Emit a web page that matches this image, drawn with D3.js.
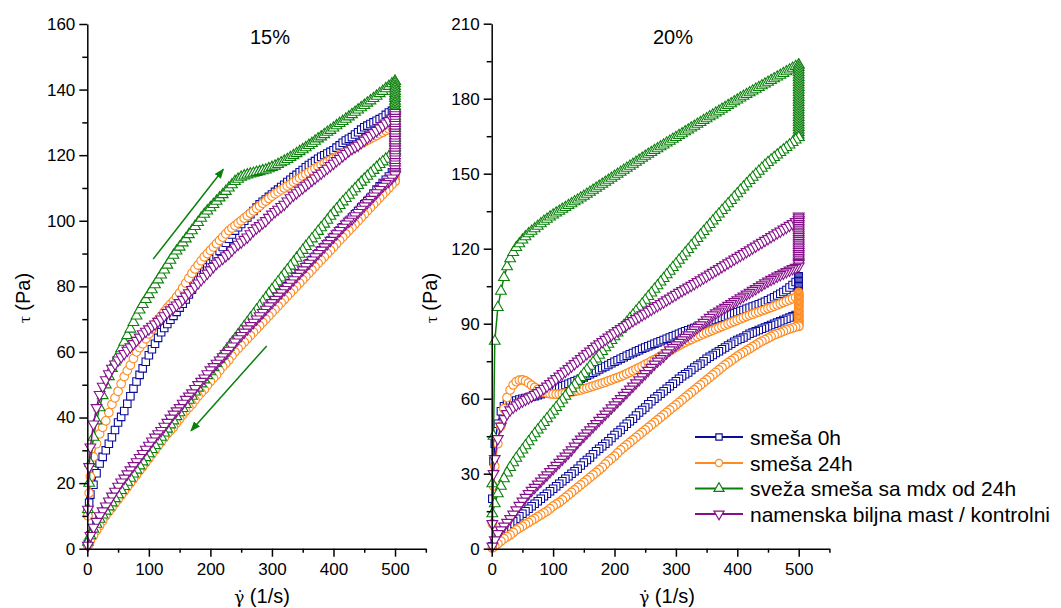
<!DOCTYPE html>
<html><head><meta charset="utf-8">
<script src="https://cdn.jsdelivr.net/npm/d3@7"></script>
<style>
body{margin:0;background:#fff;}
svg{display:block;font-family:"Liberation Sans",Arial,sans-serif;}
</style>
</head><body>
<svg id="chart" width="1061" height="608"></svg>
<script>
// ---------- data ----------
const rateUp = [1,3,5,10,15,20,25,30,35,40,45,50,55,60,65,70,75,80,85,90,95,100,105,110,115,120,125,130,135,140,145,150,155,160,165,170,175,180,185,190,195,200,205,210,215,220,225,230,235,240,245,250,255,260,265,270,275,280,285,290,295,300,305,310,315,320,325,330,335,340,345,350,355,360,365,370,375,380,385,390,395,400,405,410,415,420,425,430,435,440,445,450,455,460,465,470,475,480,485,490,495,500];
const rateDown = [500,495,490,485,480,475,470,465,460,455,450,445,440,435,430,425,420,415,410,405,400,395,390,385,380,375,370,365,360,355,350,345,340,335,330,325,320,315,310,305,300,295,290,285,280,275,270,265,260,255,250,245,240,235,230,225,220,215,210,205,200,195,190,185,180,175,170,165,160,155,150,145,140,135,130,125,120,115,110,105,100,95,90,85,80,75,70,65,60,55,50,45,40,35,30,25,20,15,10,5,1];
const holdRate = 500;

const seriesNames = ["smeša 0h","smeša 24h","sveža smeša sa mdx od 24h","namenska biljna mast / kontrolni"];
const panelTitles = ["15%","20%"];
const xTicks = [0,100,200,300,400,500];
const xMinor = [50,150,250,350,450,550];
const yTicks15 = [0,20,40,60,80,100,120,140,160];
const yMinor15 = [10,30,50,70,90,110,130,150];
const yTicks20 = [0,30,60,90,120,150,180,210];
const yMinor20 = [15,45,75,105,135,165,195];

// ===== 15 % =====
const blueUp15 = [11,14,
16.5,19.5,23,26,28,30,32,34,36.2,38.5,
40.2,42,44.2,46.5,48.8,51,53,55,57,59,
60.8,62.5,64.3,66,67.3,68.5,69.8,71,72.2,73.5,
74.7,76,77.5,79,80.5,82,83.3,84.5,85.8,87,
88.3,89.5,90.8,92,93.3,94.5,95.8,97,98,99,
100,101,102,103,104,105,105.8,106.5,107.3,108,
108.8,109.5,110.3,111,111.8,112.5,113.3,114,114.8,115.5,
116.3,117,117.6,118.2,118.9,119.5,120,120.5,121,121.5,
122.3,123,123.8,124.5,125,125.5,126.3,127,127.8,128.5,
129,129.5,130,130.5,131,131.5,132.3,133,133.5,134];
const blueHold15 = [134,133.3,132.5,131.8,131,130.3,129.5,128.8,128,127.3,126.5,125.8,125,124.3,123.5,122.8,122,121.3,120.5,119.8,119,118.3,117.5,116.8,116];
const blueDown15 = [116,114.8,113.5,112.5,111.5,110.5,109.5,108.3,107,106,
105,104,103,102,101,100,99,98,97,96,
95,94,93,92,91,90,89,88,87,86,
85,84,83,82,81,80,79,78,77,76,
75,73.8,72.5,71.5,70.5,69.5,68.5,67.5,66.5,65.5,
64.5,63.3,62,61,60,59,58,57,56,55,
54,52.8,51.5,50.5,49.5,48.3,47,46,45,43.8,
42.5,41.5,40.5,39.3,38,36.8,35.5,34.3,33,32,
31,29.8,28.5,27.3,26,24.8,23.5,22.3,21,19.8,
18.5,17,15.5,14,12.5,11,9.5,7.8,6,4,
1.5];

const orangeUp15 = [10,17,
22,28,32,35,37,39,41.5,44,46,48,
50.3,52.5,54.3,56,58,60,61.3,62.5,64,65.5,
67,68.5,69.8,71,72.3,73.5,74.5,75.5,76.8,78,
79.5,81,82.5,84,85.3,86.5,87.8,89,90,91,
92,93,94,95,96,97,97.8,98.5,99.3,100,
100.8,101.5,102.3,103,103.8,104.5,105.3,106,106.8,107.5,
108.2,108.8,109.4,110,110.6,111.2,111.8,112.4,113,113.6,
114.2,114.8,115.4,116,116.5,117,117.5,118,118.5,119,
119.5,120,120.5,121,121.5,122,122.5,123,123.5,124,
124.5,125,125.5,126,126.5,127,127.5,128,128.5,129];
const orangeHold15 = [129,128.3,127.5,126.8,126,125.3,124.5,123.8,123,122.3,121.5,120.8,120,119.3,118.5,117.8,117,116.3,115.5,114.8,114,113.3,112.5,112];
const orangeDown15 = [112,111,110,109,108,107,106,105,104,103,
102,101,100,99,98,97,96,95,94,93,
92,91,90,89,88,87,86,85,84,83,
82,81,80,79,78,77,76,75,74,73,
72,71,70,69,68,67,66,65,64,63,
62,61,60,58.8,57.5,56.5,55.5,54.3,53,52,
51,49.8,48.5,47.5,46.5,45.3,44,43,42,40.8,
39.5,38.3,37,36,35,33.8,32.5,31.3,30,28.8,
27.5,26.3,25,23.8,22.5,21.3,20,18.8,17.5,16.3,
15,13.8,12.5,11.3,10,8.5,7,5.5,4,2.5,
1];

const greenUp15 = [12,20,
26,34,39,43,46.7,50,52.5,55,57,59,
61,63,65,67,69,71,72.8,74.5,76,77.5,
79,80.5,82,83.5,85,86.5,88,89.5,90.8,92,
93.3,94.5,95.8,97,98.3,99.5,100.8,102,103,104,
105,106,107,108,109,110,111,112,112.7,113.3,
113.7,114,114.3,114.5,114.8,115,115.3,115.5,115.9,116.3,
116.7,117.2,117.7,118.2,118.7,119.3,119.9,120.5,121.1,121.7,
122.3,123,123.6,124.3,125,125.6,126.3,127,127.6,128.3,
129,129.7,130.3,131,131.7,132.4,133.1,133.8,134.5,135.2,
135.9,136.6,137.3,138,138.8,139.5,140.3,141,141.8,142.5];
const greenHold15 = [142.5,141.8,141,140.3,139.5,138.8,138,137.3,136.5,135.8,135,134.3,133.5,132.8,132,131.3,130.5,129.8,129,128.3,127.5,126.8,126,125.3,124.5,123.8,123,122.3,121.5];
const greenDown15 = [121,120.3,119.5,118.8,118,117.2,116.3,115.4,114.5,113.6,
112.7,111.8,110.8,109.8,108.8,107.8,106.8,105.8,104.7,103.6,
102.5,101.4,100.2,99,97.9,96.8,95.6,94.5,93.3,92.2,
91,89.8,88.6,87.4,86.2,85,83.8,82.6,81.4,80.2,
79,77.8,76.5,75.3,74,72.8,71.5,70.3,69,67.8,
66.5,65.3,64,62.8,61.5,60.3,59,57.8,56.5,55.3,
54,52.8,51.5,50.3,49,47.8,46.5,45.3,44,42.8,
41.5,40.3,39,37.8,36.5,35.3,34,32.8,31.5,30.3,
29,27.8,26.5,25.3,24,22.8,21.5,20.3,19,17.8,
16.5,15.3,14,12.8,11.5,10.3,9,7.5,6,4,
2];

const purpleUp15 = [12,25,
31,38,43,47,49.5,51.5,53.3,55,56.3,57.5,
58.5,59.5,60.5,61.5,62.5,63.5,64.5,65.5,66.3,67,
67.8,68.5,69.3,70,71,72,72.8,73.5,74.3,75,
76,77,78,79,80,81,82,83,84,85,
86,87,87.8,88.5,89.3,90,91,92,92.8,93.5,
94.3,95,96,97,97.8,98.5,99.3,100,101,102,
102.8,103.5,104.3,105,106,107,107.8,108.5,109.3,110,
110.8,111.5,112.3,113,113.8,114.5,115.3,116,116.8,117.5,
118.3,119,119.8,120.5,121.3,122,122.5,123,123.8,124.5,
125.3,126,126.8,127.5,128.3,129,129.8,130.5,131.3,132];
const purpleHold15 = [133,132.3,131.5,130.8,130,129.3,128.5,127.8,127,126.3,125.5,124.8,124,123.3,122.5,121.8,121,120.3,119.5,118.8,118,117.3,116.5,115.8,115,114.5,114];
const purpleDown15 = [114,113,112,111.3,110.5,109.5,108.5,107.5,106.5,105.5,
104.5,103.5,102.5,101.5,100.5,99.8,99,98,97,96,
95,94,93,92,91,90,89,88,87,86,
85,84,83,82,81,80,79,78,77,76,
75,74,73,72,71,70,69,68,67,66,
65,64,63,61.8,60.5,59.5,58.5,57.5,56.5,55.5,
54.5,53.3,52,51,50,48.8,47.5,46.5,45.5,44.3,
43,42,41,39.8,38.5,37.3,36,35,34,32.8,
31.5,30.3,29,27.8,26.5,25.3,24,22.8,21.5,20.3,
19,17.5,16,14.5,13,11.5,10,8.3,6.5,4,
1];

// ===== 20 % =====
const blueUp20 = [20,35,
42,50,55,57,58,58.5,59,59.3,59.7,60,
60.3,60.5,60.8,61,61.4,61.8,62.2,62.6,63,63.5,
64,64.5,65,65.5,66,66.5,67,67.5,68,68.5,
69.2,69.8,70.4,71,71.7,72.3,72.9,73.5,74.2,74.8,
75.4,76,76.6,77.2,77.8,78.3,78.9,79.4,80,80.5,
81,81.5,82,82.5,83,83.5,84,84.5,85,85.5,
86,86.5,87,87.4,87.9,88.3,88.8,89.2,89.7,90.1,
90.6,91,91.5,91.9,92.4,92.8,93.3,93.7,94.2,94.6,
95.1,95.5,96,96.4,96.9,97.3,97.8,98.3,98.8,99.4,
100,100.6,101.3,102,102.7,103.5,104.5,105.5,106.7,108];
const blueHold20 = [109,108.5,108,107.5,107,106.5,106,105.5,105,104.5,104,103.5,103,102.5,102,101.5,101,100.5,100,99.5,99,98.5,98,97.5,97,96.5,96,95.5,95,94.5,94];
const blueDown20 = [94,93.5,93,92.5,92,91.5,91,90.5,90,89.5,
89,88.5,88,87.5,87,86.5,86,85.3,84.5,84,
83.5,82.8,82,81.3,80.5,79.8,79,78.3,77.5,76.8,
76,75,74,73.3,72.5,71.5,70.5,69.8,69,68,
67,66,65,64,63,62,61,60,59,57.8,
56.5,55.5,54.5,53.3,52,51,50,48.8,47.5,46.5,
45.5,44.3,43,42,41,40,39,37.8,36.5,35.5,
34.5,33.3,32,31,30,29,28,27,26,25,
24,23,22,21,20,19,18,17,16,15,
14,13,12,11,10,8.8,7.5,6.3,5,3,
1];

const orangeUp20 = [10,25,
33,42,49,56,60.5,63.5,65.5,66.8,67.4,67.5,
67.1,66.3,65.4,64.5,63.7,63,62.6,62.2,62,61.8,
61.8,61.8,62,62.2,62.4,62.7,62.9,63.2,63.5,63.9,
64.2,64.6,65,65.4,65.8,66.2,66.6,67.1,67.5,68,
68.4,68.9,69.4,70,70.6,71.2,71.8,72.4,73,73.7,
74.3,75,75.6,76.3,77,77.7,78.4,79.2,79.9,80.6,
81.3,82,82.6,83.2,83.7,84.3,84.8,85.4,85.9,86.4,
86.9,87.4,87.9,88.4,88.9,89.4,89.9,90.4,90.9,91.4,
91.9,92.4,92.9,93.4,93.8,94.3,94.7,95.2,95.6,96.1,
96.5,97,97.5,98,98.5,99,99.5,100,100.5,101];
const orangeHold20 = [102.5,102,101.5,101,100.5,100,99.5,99,98.5,98,97.5,97,96.5,96,95.5,95,94.5,94,93.5,93,92.5,92,91.5,91,90.5,90,89.5,89];
const orangeDown20 = [89,88.7,88.3,87.9,87.5,87,86.5,86,85.5,84.9,
84.2,83.6,83,82.3,81.5,80.8,80,79.3,78.5,77.8,
77,76.1,75.2,74.4,73.5,72.5,71.5,70.5,69.5,68.5,
67.5,66.5,65.5,64.5,63.5,62.5,61.5,60.5,59.5,58.5,
57.5,56.5,55.5,54.5,53.5,52.5,51.5,50.5,49.5,48.5,
47.5,46.5,45.5,44.5,43.5,42.5,41.5,40.5,39.5,38.3,
37,36,35,33.8,32.5,31.5,30.5,29.5,28.5,27.5,
26.5,25.5,24.5,23.5,22.5,21.5,20.5,19.5,18.5,17.8,
17,16,15,14.3,13.5,12.8,12,11.3,10.5,9.8,
9,8.3,7.5,6.5,5.5,4.8,4,3,2,1,
0.3];

const greenUp20 = [26,45,
83,96.5,103,108.5,112.8,116,118.5,120.5,122,123.5,
124.8,126,127,128,129,130,131,131.8,132.7,133.5,
134.3,135,135.8,136.5,137.3,138,138.8,139.5,140.3,141,
141.8,142.6,143.4,144.2,145,145.8,146.6,147.4,148.2,149,
149.8,150.6,151.4,152.2,153,153.8,154.6,155.4,156.2,157,
157.8,158.5,159.3,160,160.8,161.5,162.3,163,163.8,164.5,
165.3,166,166.8,167.5,168.3,169,169.8,170.5,171.3,172,
172.8,173.5,174.3,175,175.8,176.5,177.3,178,178.8,179.5,
180.3,181,181.7,182.4,183.1,183.8,184.5,185.2,185.9,186.6,
187.3,188,188.7,189.4,190.1,190.8,191.5,192.2,192.9,193.5];
const greenHold20 = [193.5,192.5,191.5,190.5,189.5,188.5,187.5,186.5,185.5,184.5,183.5,182.5,181.5,180.5,179.5,178.5,177.5,176.5,175.5,174.5,173.5,172.5,171.5,170.5,169.5,168.5,167.5,166.5,165.5,164.5];
const greenDown20 = [164.5,163.5,162.5,161.5,160.5,159.5,158.5,157.5,156.5,155.5,
154.5,153.4,152.2,151,149.8,148.6,147.3,146,144.7,143.4,
142,140.7,139.3,138,136.6,135.3,133.9,132.5,131.1,129.7,
128.3,126.9,125.5,124.1,122.6,121.2,119.7,118.3,116.8,115.4,
113.9,112.5,111,109.6,108.1,106.7,105.2,103.8,102.3,100.9,
99.4,97.9,96.4,95,93.5,92.1,90.6,89.2,87.7,86.3,
84.8,83.3,81.8,80.4,78.9,77.4,75.9,74.5,73,71.5,
70,68.5,67,65.5,64,62.5,61,59.5,58,56.5,
55,53.5,52,50.5,49,47.5,46,44.4,42.8,41.2,
39.5,37.9,36.2,34.4,32.5,30.3,28,25,22,18,
14];

const purpleUp20 = [10,30,
36,44,49,52,54,55.5,56.6,57.5,58.3,59,
59.7,60.3,61,61.7,62.4,63.2,64.1,65,66,67,
68,69,70,71,72,73,74,75,76,77,
78,79,80,81,81.9,82.8,83.7,84.6,85.5,86.3,
87.2,88,88.8,89.6,90.4,91.2,92,92.7,93.5,94.2,
95,95.7,96.5,97.2,98,98.7,99.5,100.2,101,101.7,
102.5,103.2,103.9,104.6,105.3,106,106.8,107.5,108.3,109,
109.8,110.5,111.3,112,112.8,113.5,114.3,115,115.8,116.5,
117.3,118,118.8,119.5,120.3,121,121.8,122.5,123.3,124,
124.8,125.5,126.3,127,127.8,128.5,129.3,130,130.8,131.5];
const purpleHold20 = [133,132.3,131.5,130.8,130,129.3,128.5,127.8,127,126.3,125.5,124.8,124,123.3,122.5,121.8,121,120.3,119.5,118.8,118,117.3,116.5,115.8,115,114.5,114];
const purpleDown20 = [113,112.5,112,111.4,110.8,110.2,109.6,109,108.3,107.7,
107,106.3,105.5,104.8,104,103.3,102.5,101.8,101,100.3,
99.5,98.8,98,97.3,96.5,95.8,95,94.3,93.5,92.5,
91.5,90.5,89.5,88.5,87.5,86.5,85.5,84.5,83.5,82.5,
81.5,80.5,79.5,78.3,77,76,75,73.8,72.5,71.3,
70,68.8,67.5,66.3,65,63.8,62.5,61.3,60,58.8,
57.5,56.3,55,53.8,52.5,51.3,50,48.8,47.5,46.3,
45,43.8,42.5,41,39.5,38.3,37,35.8,34.5,33.3,
32,30.8,29.5,28.3,27,25.8,24.5,23.3,22,20.5,
19,17.3,15.5,13.8,12,10.5,9,7.5,6,3.5,
1];

// annotation arrows (data coords, 15% panel)
const arrowUp15 = [[107,88.3],[221,115.7]];
const arrowDown15 = [[291.5,61.8],[168.5,36]];

// ---------- styles ----------
const colors = ["#0b0b9c","#ff8a1e","#0a800a","#85108a"];
const shapes = [d3.symbolSquare, d3.symbolCircle, d3.symbolTriangle, d3.symbolTriangle];
const sizes = [56, 58, 50, 50];
const rotations = [0,0,0,180];

function build(up, hold, down){
  const pts = [];
  up.forEach((v,i)=>pts.push([rateUp[i], v]));
  hold.forEach(v=>pts.push([holdRate, v]));
  down.forEach((v,i)=>pts.push([rateDown[i], v]));
  return pts;
}

const panels = [
  { title: panelTitles[0], yMax:160, yTicks:yTicks15, yMinor:yMinor15,
    xr:[87.3,425.8], yr:[548.7,24], titleX:270, ylabX:30, xlabX:262,
    series:[build(blueUp15,blueHold15,blueDown15), build(orangeUp15,orangeHold15,orangeDown15),
            build(greenUp15,greenHold15,greenDown15), build(purpleUp15,purpleHold15,purpleDown15)],
    arrows:[arrowUp15, arrowDown15] },
  { title: panelTitles[1], yMax:210, yTicks:yTicks20, yMinor:yMinor20,
    xr:[491.7,829.4], yr:[548.7,23.7], titleX:673, ylabX:437, xlabX:667,
    series:[build(blueUp20,blueHold20,blueDown20), build(orangeUp20,orangeHold20,orangeDown20),
            build(greenUp20,greenHold20,greenDown20), build(purpleUp20,purpleHold20,purpleDown20)],
    arrows:[] }
];

const svg = d3.select("#chart");
const defs = svg.append("defs");
defs.append("marker").attr("id","ah").attr("viewBox","0 0 10 10").attr("refX",9).attr("refY",5)
  .attr("markerWidth",10).attr("markerHeight",10).attr("markerUnits","userSpaceOnUse").attr("orient","auto")
  .append("path").attr("d","M0,1 L10,5 L0,9 Z").attr("fill","#0a800a");

panels.forEach(p=>{
  const x = d3.scaleLinear().domain([0,550]).range(p.xr);
  const y = d3.scaleLinear().domain([0,p.yMax]).range(p.yr);
  const g = svg.append("g");

  p.series.forEach((pts,si)=>{
    const sg = g.append("g");
    sg.append("path").datum(pts)
      .attr("d", d3.line().x(d=>x(d[0])).y(d=>y(d[1])))
      .attr("fill","none").attr("stroke",colors[si]).attr("stroke-width",1.5);
    const sym = d3.symbol().type(shapes[si]).size(sizes[si]);
    sg.selectAll("path.m").data(pts).join("path").attr("class","m")
      .attr("d", sym)
      .attr("transform", d=>`translate(${x(d[0])},${y(d[1])}) rotate(${rotations[si]})`)
      .attr("fill","#fff").attr("stroke",colors[si]).attr("stroke-width",1.1);
  });

  p.arrows.forEach(a=>{
    g.append("line").attr("x1",x(a[0][0])).attr("y1",y(a[0][1]))
      .attr("x2",x(a[1][0])).attr("y2",y(a[1][1]))
      .attr("stroke","#0a800a").attr("stroke-width",1.5).attr("marker-end","url(#ah)");
  });

  g.append("g").attr("transform",`translate(0,${p.yr[0]})`)
    .call(d3.axisBottom(x).tickValues(xTicks).tickSize(8).tickPadding(6).tickSizeOuter(0));
  g.append("g").attr("transform",`translate(0,${p.yr[0]})`)
    .call(d3.axisBottom(x).tickValues(xMinor).tickSize(4).tickFormat("").tickSizeOuter(0))
    .select(".domain").remove();
  g.append("g").attr("transform",`translate(${p.xr[0]},0)`)
    .call(d3.axisLeft(y).tickValues(p.yTicks).tickSize(8).tickPadding(4).tickSizeOuter(0));
  g.append("g").attr("transform",`translate(${p.xr[0]},0)`)
    .call(d3.axisLeft(y).tickValues(p.yMinor).tickSize(5).tickFormat("").tickSizeOuter(0))
    .select(".domain").remove();
  g.selectAll(".domain").attr("stroke","#000").attr("stroke-width",1.5);
  g.selectAll(".tick line").attr("stroke","#000").attr("stroke-width",1.5);
  g.selectAll(".tick text").attr("font-size",17).attr("fill","#000")
    .attr("font-family","'Liberation Sans',Arial,sans-serif");

  g.append("text").attr("x",p.titleX).attr("y",44).attr("text-anchor","middle")
    .attr("font-size",20).text(p.title);

  const yl = g.append("text").attr("transform",`translate(${p.ylabX},298) rotate(-90)`)
    .attr("text-anchor","middle").attr("font-size",20);
  yl.append("tspan").attr("font-family","'Liberation Serif',serif").attr("font-size",17).text("τ");
  yl.append("tspan").text("  (Pa)");

  const xl = g.append("text").attr("x",p.xlabX).attr("y",603).attr("text-anchor","middle").attr("font-size",20);
  xl.append("tspan").attr("font-family","'DejaVu Serif',serif").attr("font-size",17).text("γ\u0307");
  xl.append("tspan").text(" (1/s)");
});

// legend
const lg = svg.append("g");
const rowY = [437,463,488.5,514];
seriesNames.forEach((name,i)=>{
  lg.append("line").attr("x1",695).attr("x2",743).attr("y1",rowY[i]).attr("y2",rowY[i])
    .attr("stroke",colors[i]).attr("stroke-width",1.8);
  lg.append("path").attr("d", d3.symbol().type(shapes[i]).size(i<2?40:44)())
    .attr("transform",`translate(719,${rowY[i]}) rotate(${rotations[i]})`)
    .attr("fill","#fff").attr("stroke",colors[i]).attr("stroke-width",1.2);
  lg.append("text").attr("x",750).attr("y",rowY[i]+7.5).attr("font-size",21).attr("fill","#000").text(name);
});
</script>
</body></html>
